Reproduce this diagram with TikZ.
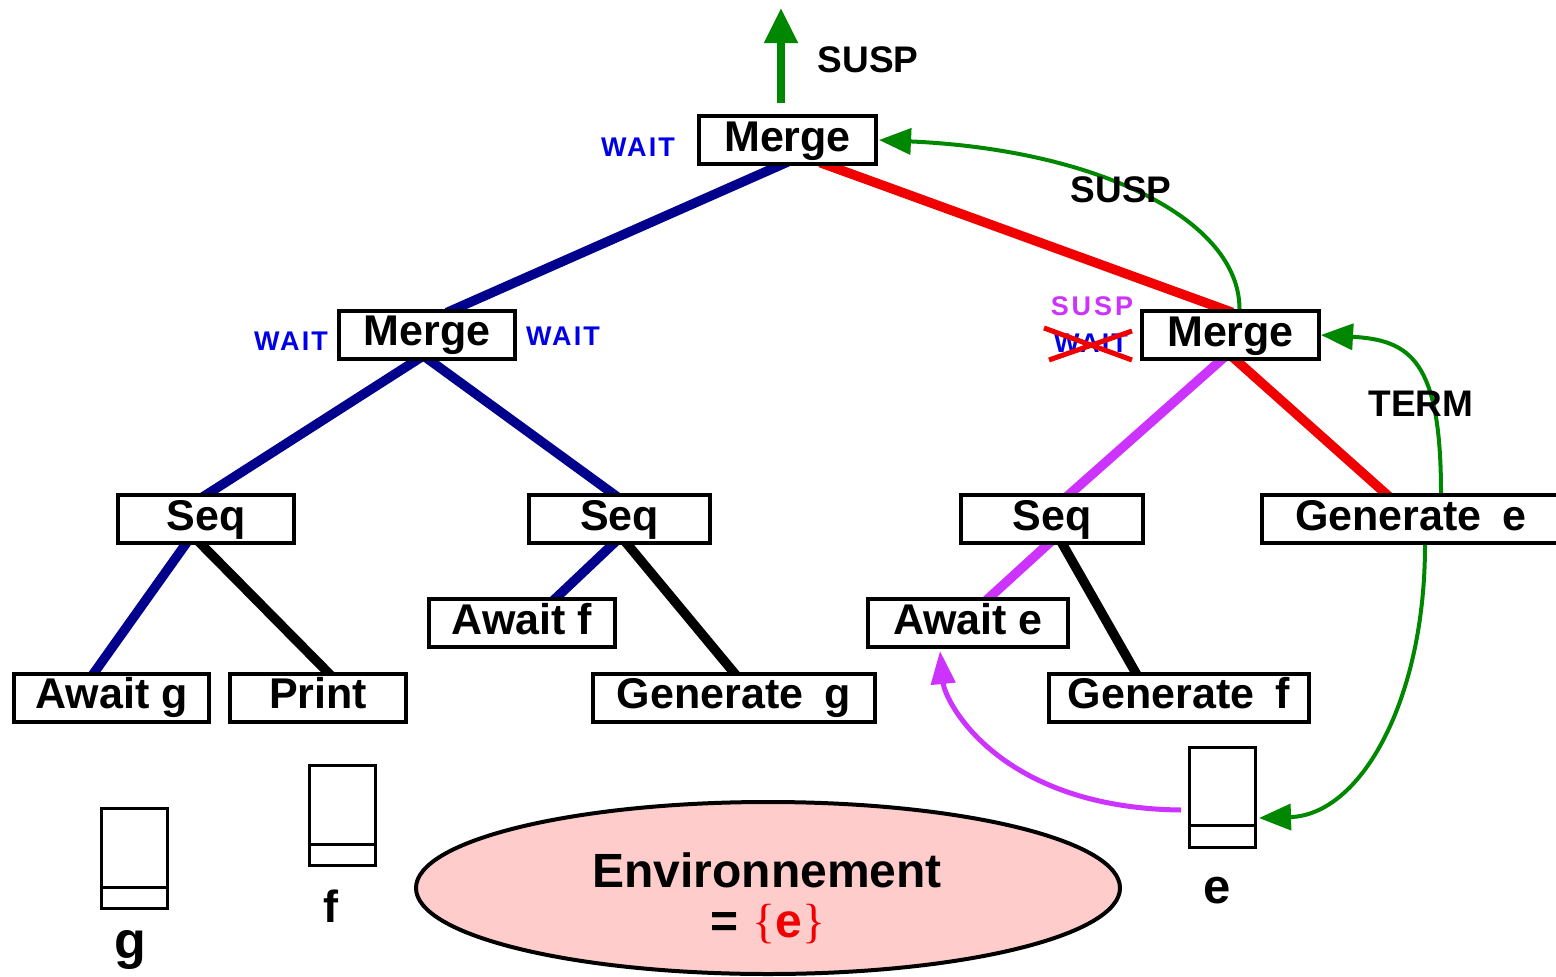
\documentclass[tikz,border=0pt]{standalone}
\usepackage{fontspec}
\setmainfont{Liberation Sans}
\newfontfamily\bracefont{Liberation Serif}
\usetikzlibrary{arrows.meta,shapes.geometric}

\definecolor{navy}{RGB}{0,0,140}
\definecolor{tred}{RGB}{240,0,0}
\definecolor{grn}{RGB}{0,135,0}
\definecolor{mag}{RGB}{204,51,255}
\definecolor{wblue}{RGB}{0,0,230}
\definecolor{envpink}{RGB}{255,204,204}

\pgfdeclarelayer{bg}
\pgfsetlayers{bg,main}

\begin{document}
\begin{tikzpicture}[x=1pt,y=-1pt,
  box/.style={draw, line width=4pt, fill=white, inner sep=0pt,
    minimum height=48pt, text height=31pt, text depth=9pt,
    font=\fontsize{43}{48}\selectfont\bfseries},
  edge/.style={line width=9.5pt, shorten <=-10pt, shorten >=-10pt},
  flow/.style={line width=4pt, -{Triangle[length=32pt,width=26pt]}},
  tag/.style={inner sep=0pt, font=\fontsize{37}{40}\selectfont\bfseries},
  state/.style={inner sep=0pt, font=\fontsize{27}{30}\selectfont\bfseries\addfontfeature{LetterSpace=8}},
  queue/.style={draw, line width=3pt, inner sep=0pt, minimum width=66pt, minimum height=100pt},
  qlabel/.style={inner sep=0pt, anchor=base},
]
\useasboundingbox (0,0) rectangle (1556,977);

% program tree
\node[box, minimum width=177pt] (m0) at (787.5,140) {Merge};
\node[box, minimum width=176pt] (m1) at (427,334.5) {Merge};
\node[box, minimum width=177pt] (m2) at (1230.5,335) {Merge};
\node[box, minimum width=176pt] (s1) at (206,519) {Seq};
\node[box, minimum width=181pt] (s2) at (619.5,519) {Seq};
\node[box, minimum width=182pt] (s3) at (1052,519) {Seq};
\node[box, minimum width=298pt] (ge) at (1411,519) {Generate\hspace{0.5em}e};
\node[box, minimum width=186pt] (af) at (522,623) {Await f};
\node[box, minimum width=200pt] (ae) at (968,623) {Await e};
\node[box, minimum width=195pt] (ag) at (111.5,697.5) {Await g};
\node[box, minimum width=176pt] (pr) at (318,697.5) {Print};
\node[box, minimum width=282pt] (gg) at (734,697.5) {Generate\hspace{0.5em}g};
\node[box, minimum width=260pt] (gf) at (1179,697.5) {Generate\hspace{0.5em}f};

% tree branches, behind the boxes
\begin{pgfonlayer}{bg}
\draw[edge, navy] ([shift={(-9,0)}]m0.south) -- ([shift={(29,0)}]m1.north);
\draw[edge, tred] ([shift={(42,0)}]m0.south) -- ([shift={(-7.5,0)}]m2.north);
\draw[edge, navy] ([shift={(-11,0)}]m1.south) -- ([shift={(3,0)}]s1.north);
\draw[edge, navy] ([shift={(3,0)}]m1.south) -- ([shift={(-7.5,0)}]s2.north);
\draw[edge, navy] ([shift={(-21,0)}]s1.south) -- ([shift={(-16.5,0)}]ag.north);
\draw[edge, black] ([shift={(-4,0)}]s1.south) -- ([shift={(9,0)}]pr.north);
\draw[edge, navy] ([shift={(-7.5,0)}]s2.south) -- ([shift={(35,0)}]af.north);
\draw[edge, black] ([shift={(8.5,0)}]s2.south) -- ([shift={(-1,0)}]gg.north);
\draw[edge, mag] ([shift={(-10.5,0)}]m2.south) -- ([shift={(19,0)}]s3.north);
\draw[edge, tred] ([shift={(6.5,0)}]m2.south) -- ([shift={(-26,0)}]ge.north);
\draw[edge, mag] ([shift={(-5,0)}]s3.south) -- ([shift={(22,0)}]ae.north);
\draw[edge, black] ([shift={(11,0)}]s3.south) -- ([shift={(-44,0)}]gf.north);
\end{pgfonlayer}

% status labels
\node[state, text=wblue] (w0) at (638,147) {WAIT};
\node[state, text=wblue] (w1) at (291,341) {WAIT};
\node[state, text=wblue] (w2) at (563,336) {WAIT};
\node[state, text=mag, font=\fontsize{27}{30}\selectfont\bfseries\addfontfeature{LetterSpace=11}] (sp) at (1092,306.5) {SUSP};
\node[state, text=wblue] (wx) at (1091,343) {WAIT};
\draw[tred, line width=5pt] ([shift={(-47,-15)}]wx.center) -- ([shift={(41,17)}]wx.center);
\draw[tred, line width=5pt] ([shift={(-42,17)}]wx.center) -- ([shift={(41,-12)}]wx.center);

% signal flows
\coordinate (up) at (781,8);
\draw[grn, line width=8pt, -{Triangle[length=35pt,width=32pt]}] ([shift={(-6.5,-11)}]m0.north) -- (up);
\node[tag] (t0) at (868,60) {SUSP};
\draw[flow, grn] ([shift={(9,0)}]m2.north) .. controls +(0,-88) and +(222,10) .. ([shift={(1,0)}]m0.east);
\node[tag] (t1) at (1121,190) {SUSP};
\draw[flow, grn] ([shift={(30,0)}]ge.north) .. controls +(0,-133) and +(89,5) .. (m2.east);
\node[tag] (t2) at (1421,404) {TERM};

% event queues
\node[queue] (qg) at (134,858.5) {};
\node[queue] (qf) at (342,815.5) {};
\node[queue] (qe) at (1222.5,797) {};
\draw[line width=3pt] ([shift={(0,-23)}]qg.south west) -- ([shift={(0,-23)}]qg.south east);
\draw[line width=3pt] ([shift={(0,-23)}]qf.south west) -- ([shift={(0,-23)}]qf.south east);
\draw[line width=3pt] ([shift={(0,-23)}]qe.south west) -- ([shift={(0,-23)}]qe.south east);
\node[qlabel, font=\fontsize{52}{56}\selectfont\bfseries] (lg) at (130,958) {g};
\node[qlabel, font=\fontsize{45}{50}\selectfont\bfseries] (lf) at (331,922) {f};
\node[qlabel, font=\fontsize{49}{52}\selectfont\bfseries] (le) at (1217,903) {e};

\draw[flow, grn] ([shift={(14,0)}]ge.south) .. controls +(0,155) and +(102,-3) .. ([shift={(2,21)}]qe.east);
\draw[mag, line width=5pt, -{Triangle[length=33pt,width=24pt]}] ([shift={(-7,13)}]qe.west) .. controls +(-182,-2) and +(5,51) .. ([shift={(-28,2)}]ae.south);

% environment
\node[ellipse, draw, line width=4pt, fill=envpink, minimum width=704pt, minimum height=172pt] (env) at (768,888) {};
\node[inner sep=0pt, anchor=base, font=\fontsize{48}{50}\selectfont\bfseries] (envname) at (767,887) {Environnement};
\node[inner sep=0pt, anchor=base, font=\fontsize{48}{50}\selectfont\bfseries] (envset) at (768,937)
  {=\hspace{0.3em}{\color{tred}\bracefont\mdseries\{}{\color{tred}e}{\color{tred}\bracefont\mdseries\}}};
\end{tikzpicture}
\end{document}
